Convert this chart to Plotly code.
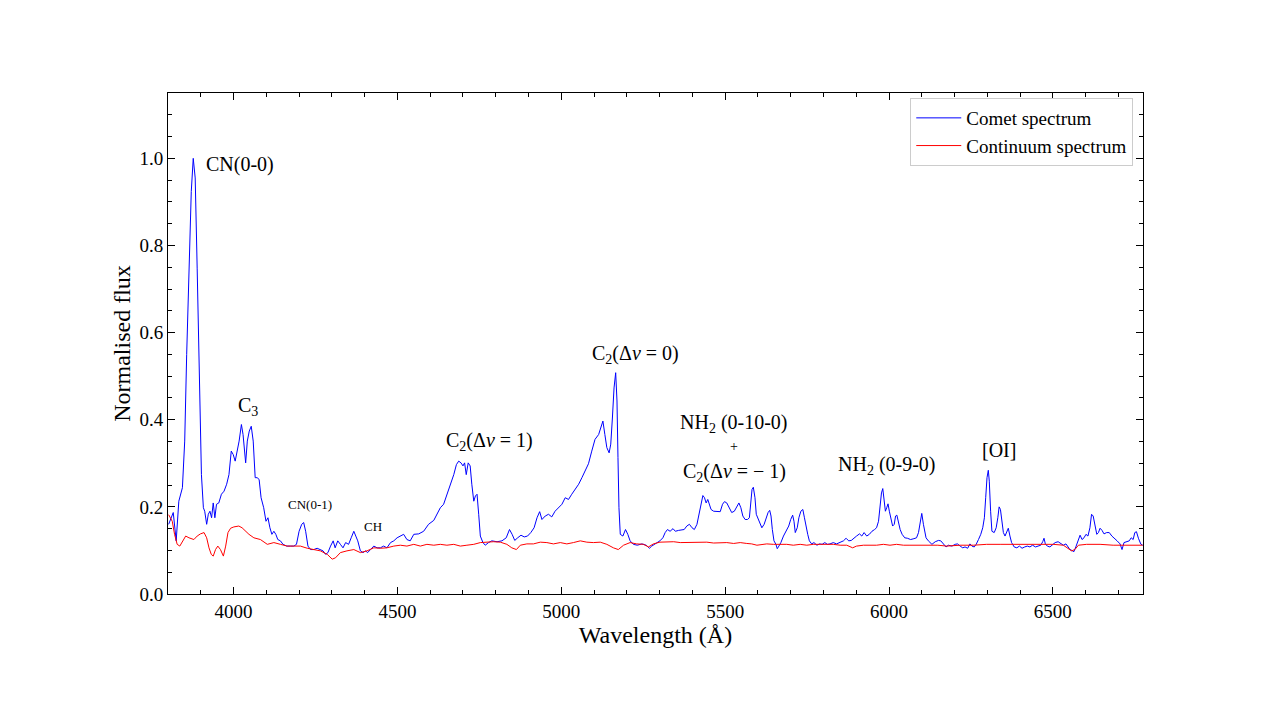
import plotly.graph_objects as go

# Comet spectrum (wavelength in Angstrom, normalised flux)
comet_wl = [
    3802, 3806, 3816, 3825, 3833, 3844, 3851, 3857, 3864, 3871, 3877, 3883, 3889, 3895,
    3902, 3908, 3912, 3918, 3923, 3928, 3933, 3938, 3943, 3948, 3955, 3963, 3971, 3979,
    3986, 3993, 3999, 4005, 4011, 4017, 4024, 4029, 4037, 4042, 4048, 4054, 4060, 4066,
    4072, 4078, 4084, 4092, 4099, 4105, 4111, 4117, 4123, 4129, 4135, 4143, 4151, 4162,
    4174, 4184, 4192, 4200, 4208, 4214, 4220, 4227, 4235, 4245, 4255, 4265, 4273, 4281,
    4288, 4296, 4304, 4310, 4318, 4326, 4334, 4342, 4351, 4359, 4367, 4373, 4379, 4387,
    4395, 4403, 4409, 4418, 4428, 4438, 4448, 4458, 4468, 4479, 4489, 4499,
    4509, 4519, 4529, 4539, 4550, 4565, 4580, 4595, 4611, 4621, 4631, 4641, 4651, 4661,
    4672, 4680, 4687, 4694, 4700, 4705, 4710, 4716, 4722, 4727, 4733, 4738, 4743, 4748,
    4753, 4761, 4768, 4778, 4788, 4804, 4819, 4832, 4842, 4850, 4858, 4867, 4877, 4887,
    4897, 4907, 4917, 4926, 4934, 4941, 4951, 4961, 4971, 4981, 4992, 5002, 5012, 5022,
    5032, 5042, 5053, 5063, 5073, 5083, 5093, 5103, 5114, 5119, 5127, 5133, 5139, 5146,
    5151, 5156, 5161, 5166, 5170, 5173, 5176, 5180, 5188, 5196, 5203, 5210, 5220, 5232,
    5246, 5259, 5269, 5276, 5286, 5301,
    5310, 5317, 5324, 5332, 5341, 5348, 5358, 5368, 5375, 5383, 5391, 5399, 5406, 5414,
    5422, 5428, 5432, 5437, 5442, 5447, 5452, 5457, 5465, 5475, 5485, 5492, 5498, 5505,
    5512, 5520, 5528, 5536, 5542, 5548, 5554, 5561, 5568, 5574, 5578, 5582, 5586, 5591,
    5595, 5599, 5605, 5612, 5619, 5625, 5631, 5636, 5640, 5644, 5649, 5655, 5659, 5664,
    5670, 5678, 5686, 5694, 5700, 5706, 5710, 5714, 5720, 5725, 5731, 5737, 5742, 5747,
    5752, 5757, 5764, 5771, 5780, 5788, 5796, 5804, 5812, 5820, 5830, 5840, 5851, 5861,
    5869, 5877, 5885, 5893, 5901, 5910, 5917, 5924, 5932, 5940, 5948, 5956, 5962, 5968,
    5973, 5977, 5981, 5985, 5989, 5993, 5997, 6001, 6006, 6011, 6016, 6020, 6024, 6028,
    6034, 6040, 6048, 6056, 6066, 6076, 6084, 6090, 6095, 6100, 6105, 6113,
    6120, 6131, 6141, 6151, 6158, 6166, 6174, 6181, 6192, 6202, 6209, 6217, 6225, 6232,
    6240, 6247, 6253, 6260, 6266, 6273, 6280, 6286, 6291, 6295, 6299, 6303, 6306, 6310,
    6314, 6321, 6327, 6332, 6336, 6340, 6344, 6349, 6354, 6359, 6364, 6369, 6374, 6382,
    6390, 6398, 6406, 6414, 6422, 6430, 6438, 6447, 6455, 6463, 6469, 6473, 6477, 6483,
    6491, 6499, 6507, 6516, 6524, 6532, 6540, 6547, 6552, 6558, 6564, 6570, 6577, 6583,
    6589, 6595, 6601, 6607, 6613, 6618, 6623, 6628, 6634, 6639, 6644, 6650, 6656, 6664,
    6672, 6680, 6688, 6696, 6705, 6711, 6717, 6725, 6733, 6739, 6745, 6750, 6755, 6761,
    6768, 6774,
]
comet_flux = [
    0.160, 0.167, 0.187, 0.122, 0.213, 0.244, 0.351, 0.550, 0.764, 0.924, 1.000, 0.955, 0.748, 0.504,
    0.274, 0.198, 0.190, 0.160, 0.183, 0.190, 0.175, 0.209, 0.175, 0.206, 0.209, 0.229, 0.236, 0.252,
    0.274, 0.328, 0.320, 0.305, 0.328, 0.351, 0.389, 0.366, 0.301, 0.351, 0.374, 0.385, 0.351, 0.267,
    0.267, 0.263, 0.221, 0.198, 0.167, 0.175, 0.152, 0.137, 0.144, 0.137, 0.125, 0.122, 0.114, 0.110,
    0.110, 0.110, 0.114, 0.144, 0.160, 0.164, 0.144, 0.110, 0.102, 0.102, 0.105, 0.102, 0.099, 0.091,
    0.095, 0.110, 0.122, 0.106, 0.122, 0.114, 0.106, 0.118, 0.114, 0.129, 0.144, 0.133, 0.122, 0.099,
    0.095, 0.099, 0.095, 0.102, 0.110, 0.106, 0.106, 0.110, 0.106, 0.118, 0.122, 0.129,
    0.133, 0.137, 0.125, 0.122, 0.137, 0.138, 0.144, 0.160, 0.169, 0.183, 0.198, 0.206, 0.227, 0.252,
    0.274, 0.297, 0.305, 0.301, 0.294, 0.301, 0.274, 0.301, 0.294, 0.252, 0.213, 0.225, 0.229, 0.183,
    0.133, 0.118, 0.112, 0.118, 0.122, 0.120, 0.122, 0.129, 0.148, 0.137, 0.123, 0.129, 0.135, 0.131,
    0.133, 0.141, 0.152, 0.175, 0.189, 0.171, 0.179, 0.183, 0.177, 0.190, 0.198, 0.206, 0.221, 0.217,
    0.229, 0.240, 0.252, 0.267, 0.282, 0.299, 0.328, 0.355, 0.366, 0.378, 0.397, 0.366, 0.336, 0.324,
    0.344, 0.404, 0.473, 0.508, 0.443, 0.313, 0.198, 0.137, 0.133, 0.148, 0.137, 0.122, 0.114, 0.112,
    0.115, 0.112, 0.105, 0.110, 0.115, 0.122,
    0.129, 0.141, 0.148, 0.144, 0.150, 0.144, 0.146, 0.148, 0.148, 0.156, 0.160, 0.152, 0.148, 0.160,
    0.187, 0.209, 0.226, 0.221, 0.209, 0.217, 0.206, 0.194, 0.190, 0.190, 0.189, 0.206, 0.212, 0.209,
    0.198, 0.187, 0.190, 0.202, 0.209, 0.198, 0.179, 0.171, 0.171, 0.175, 0.206, 0.240, 0.245, 0.221,
    0.183, 0.175, 0.164, 0.152, 0.160, 0.175, 0.187, 0.192, 0.179, 0.148, 0.122, 0.114, 0.104, 0.110,
    0.118, 0.133, 0.144, 0.156, 0.171, 0.181, 0.167, 0.141, 0.152, 0.175, 0.190, 0.194, 0.175, 0.152,
    0.137, 0.122, 0.115, 0.118, 0.112, 0.115, 0.114, 0.118, 0.114, 0.115, 0.118, 0.115, 0.118, 0.122,
    0.128, 0.122, 0.123, 0.129, 0.133, 0.138, 0.133, 0.141, 0.133, 0.137, 0.144, 0.148, 0.152, 0.167,
    0.198, 0.232, 0.242, 0.213, 0.190, 0.198, 0.207, 0.190, 0.171, 0.156, 0.160, 0.179, 0.181, 0.164,
    0.148, 0.137, 0.129, 0.128, 0.125, 0.127, 0.129, 0.141, 0.167, 0.185, 0.160, 0.129,
    0.122, 0.114, 0.120, 0.123, 0.122, 0.114, 0.108, 0.112, 0.110, 0.114, 0.115, 0.110, 0.106, 0.108,
    0.105, 0.115, 0.110, 0.108, 0.114, 0.125, 0.137, 0.152, 0.175, 0.221, 0.267, 0.284, 0.259, 0.190,
    0.144, 0.141, 0.152, 0.175, 0.200, 0.194, 0.167, 0.141, 0.133, 0.144, 0.151, 0.133, 0.118, 0.108,
    0.106, 0.110, 0.105, 0.108, 0.110, 0.108, 0.112, 0.108, 0.110, 0.112, 0.120, 0.128, 0.115, 0.110,
    0.108, 0.112, 0.118, 0.120, 0.115, 0.112, 0.115, 0.108, 0.102, 0.100, 0.097, 0.108, 0.125, 0.135,
    0.125, 0.129, 0.137, 0.133, 0.152, 0.183, 0.179, 0.156, 0.137, 0.141, 0.151, 0.146, 0.138, 0.141,
    0.141, 0.133, 0.128, 0.122, 0.115, 0.102, 0.118, 0.120, 0.122, 0.129, 0.125, 0.141, 0.143, 0.128,
    0.115, 0.112,
]

# Continuum spectrum
cont_wl = [
    3802, 3813, 3820, 3828, 3836, 3845, 3854, 3864, 3879, 3889, 3899, 3910, 3918, 3925,
    3932, 3938, 3945, 3952, 3960, 3969, 3976, 3983, 3991, 4001, 4016, 4026, 4037, 4047,
    4062, 4082, 4103, 4123, 4143, 4164, 4184, 4204, 4225, 4245, 4265, 4286, 4301, 4311,
    4326, 4346, 4367, 4387, 4407, 4428, 4448, 4468, 4489, 4509, 4529, 4550, 4570, 4590,
    4611, 4631, 4651, 4672, 4692, 4712, 4733, 4753, 4773, 4793, 4814, 4834, 4849, 4863,
    4875, 4895, 4915, 4936, 4956, 4976, 4997, 5017, 5037, 5058, 5078, 5098, 5119, 5139,
    5159, 5174, 5190, 5210, 5230, 5251, 5266, 5281, 5301, 5322, 5343, 5363, 5383, 5404,
    5424, 5444, 5465, 5485, 5505, 5526, 5546, 5566, 5581, 5597, 5612, 5627, 5647, 5668,
    5688, 5708, 5729, 5749, 5769, 5790, 5810, 5830, 5851, 5871, 5889, 5901, 5922, 5942,
    5962, 5983, 6003, 6023, 6044, 6064, 6084, 6105, 6125, 6149, 6176, 6217, 6258, 6298,
    6339, 6380, 6420, 6461, 6501, 6532, 6547, 6557, 6567, 6578, 6603, 6644, 6684, 6725,
    6774,
]
cont_flux = [
    0.182, 0.167, 0.137, 0.114, 0.110, 0.122, 0.133, 0.129, 0.125, 0.133, 0.138, 0.141, 0.129, 0.106,
    0.091, 0.087, 0.102, 0.110, 0.102, 0.087, 0.110, 0.141, 0.151, 0.154, 0.156, 0.152, 0.144, 0.137,
    0.129, 0.125, 0.114, 0.118, 0.114, 0.110, 0.110, 0.110, 0.105, 0.102, 0.099, 0.091, 0.080, 0.083,
    0.095, 0.099, 0.102, 0.095, 0.099, 0.106, 0.105, 0.106, 0.110, 0.112, 0.110, 0.114, 0.110, 0.114,
    0.112, 0.114, 0.112, 0.114, 0.110, 0.112, 0.114, 0.118, 0.119, 0.120, 0.119, 0.114, 0.106, 0.102,
    0.112, 0.115, 0.115, 0.119, 0.118, 0.115, 0.118, 0.115, 0.118, 0.122, 0.119, 0.118, 0.119, 0.114,
    0.106, 0.102, 0.112, 0.118, 0.115, 0.114, 0.108, 0.115, 0.119, 0.119, 0.120, 0.118, 0.118, 0.119,
    0.118, 0.119, 0.117, 0.118, 0.118, 0.116, 0.118, 0.116, 0.115, 0.112, 0.114, 0.115, 0.114, 0.114,
    0.114, 0.112, 0.114, 0.112, 0.114, 0.114, 0.114, 0.114, 0.112, 0.112, 0.106, 0.110, 0.112, 0.112,
    0.112, 0.114, 0.112, 0.114, 0.112, 0.112, 0.112, 0.112, 0.112, 0.112, 0.110, 0.112, 0.112, 0.114,
    0.114, 0.114, 0.114, 0.114, 0.114, 0.112, 0.105, 0.099, 0.102, 0.112, 0.114, 0.114, 0.112, 0.112,
    0.112,
]

# Band labels
labels_wl = [4021, 4043, 4232, 4427, 4780, 5226, 5527, 5527, 5530, 5994, 6335]
labels_flux = [0.986, 0.431, 0.206, 0.156, 0.351, 0.550, 0.392, 0.339, 0.278, 0.294, 0.330]
labels_text = [
    "CN(0-0)", "C<sub>3</sub>", "CN(0-1)", "CH",
    "C<sub>2</sub>(Δ<i>ν</i> = 1)", "C<sub>2</sub>(Δ<i>ν</i> = 0)",
    "NH<sub>2</sub> (0-10-0)", "+", "C<sub>2</sub>(Δ<i>ν</i> = − 1)",
    "NH<sub>2</sub> (0-9-0)", "[OI]",
]
labels_size = [20, 20, 13, 13, 20, 20, 20, 14, 20, 20, 20]

FONT = "Liberation Serif"

fig = go.Figure()
fig.add_trace(go.Scatter(
    x=comet_wl, y=comet_flux, mode='lines', name='Comet spectrum',
    line=dict(color='blue', width=1)
))
fig.add_trace(go.Scatter(
    x=cont_wl, y=cont_flux, mode='lines', name='Continuum spectrum',
    line=dict(color='red', width=1)
))

for wl, fl, txt, sz in zip(labels_wl, labels_flux, labels_text, labels_size):
    fig.add_annotation(x=wl, y=fl, text=txt, showarrow=False,
                       font=dict(family=FONT, size=sz, color='black'))

axis_common = dict(
    showline=True, linecolor='black', linewidth=1, mirror='allticks',
    ticks='inside', ticklen=7, tickcolor='black', showgrid=False, zeroline=False,
    tickfont=dict(family=FONT, size=19, color='black'),
)

fig.update_xaxes(
    range=[3800, 6775], tick0=4000, dtick=500,
    title=dict(text='Wavelength (Å)', font=dict(family=FONT, size=24, color='black'), standoff=2),
    minor=dict(ticks='inside', dtick=100, ticklen=4, tickcolor='black'),
    **axis_common
)
fig.update_yaxes(
    range=[0, 1.15], tick0=0, dtick=0.2, tickformat='.1f',
    title=dict(text='Normalised flux', font=dict(family=FONT, size=24, color='black'), standoff=2),
    minor=dict(ticks='inside', dtick=0.05, ticklen=4, tickcolor='black'),
    **axis_common
)

fig.update_layout(
    width=1279, height=719,
    margin=dict(l=160, r=144, t=85, b=133),
    plot_bgcolor='white', paper_bgcolor='white',
    font=dict(family=FONT, color='black'),
    legend=dict(x=0.99, y=0.99, xanchor='right', yanchor='top',
                bgcolor='white', bordercolor='#cccccc', borderwidth=1,
                itemwidth=45, tracegroupgap=0,
                font=dict(family=FONT, size=19, color='black')),
)

fig.write_html("out.html")
